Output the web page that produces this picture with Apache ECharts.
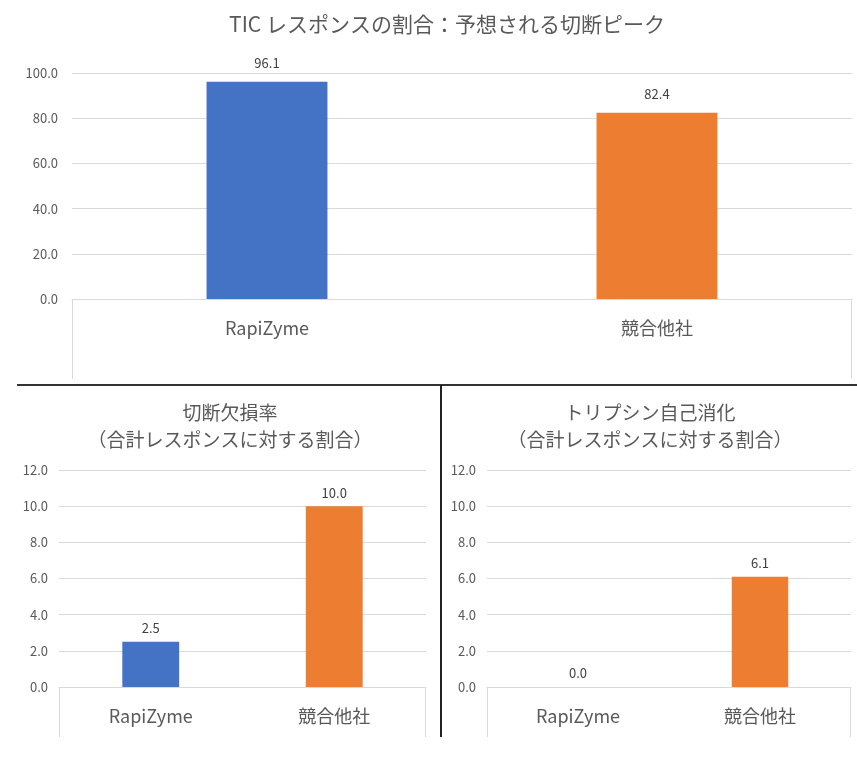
<!DOCTYPE html>
<html>
<head>
<meta charset="utf-8">
<script src="https://cdn.jsdelivr.net/npm/echarts@6/dist/echarts.min.js"></script>
<style>
html,body{margin:0;padding:0;background:#fff;}
#c{width:857px;height:767px;}
</style>
</head>
<body>
<div id="c"></div>
<script>
// ---- data ----
const categories = ['RapiZyme', '競合他社'];
const ticResponse = [96.1, 82.4];        // TIC レスポンスの割合
const cleavageLoss = [2.5, 10.0];        // 切断欠損率
const trypsinAutolysis = [0.0, 6.1];     // トリプシン自己消化
const barColors = ['#4472C4', '#ED7D31'];

const titleTop = 'TIC レスポンスの割合：予想される切断ピーク';
const titleLeft = '切断欠損率\n（合計レスポンスに対する割合）';
const titleRight = 'トリプシン自己消化\n（合計レスポンスに対する割合）';

const FONT = "'Liberation Sans Narrow', 'Noto Sans CJK JP', sans-serif";
const JFONT = "'Noto Sans CJK JP', sans-serif";

function seriesData(vals) {
  return vals.map((v, i) => ({ value: v, itemStyle: { color: barColors[i] } }));
}

const grids = [
  { left: 72, right: 5, top: 73, bottom: 468 },
  { left: 59, right: 431, top: 470, bottom: 80 },
  { left: 487, right: 6, top: 470, bottom: 80 }
];

function xAxis(gi, fs, margin) {
  return {
    type: 'category', gridIndex: gi, data: categories,
    axisLine: { show: true, lineStyle: { color: '#d9d9d9', width: 1 } },
    axisTick: { show: false },
    axisLabel: { color: '#595959', fontSize: fs, margin: margin, fontFamily: FONT }
  };
}
function yAxis(gi, max, interval, margin) {
  return {
    type: 'value', gridIndex: gi, min: 0, max: max, interval: interval,
    axisLine: { show: false }, axisTick: { show: false },
    splitLine: { lineStyle: { color: '#d9d9d9', width: 1 } },
    axisLabel: { color: '#595959', fontSize: 13, margin: margin, fontFamily: FONT,
      formatter: v => v.toFixed(1) }
  };
}
function bar(gi, vals, dist) {
  return {
    type: 'bar', xAxisIndex: gi, yAxisIndex: gi, data: seriesData(vals),
    barWidth: '31%',
    label: { show: true, position: 'top', distance: dist, color: '#404040', fontSize: 13,
      fontFamily: FONT, formatter: p => p.value.toFixed(1) }
  };
}

const chart = echarts.init(document.getElementById('c'), null, { renderer: 'canvas' });

const boxColor = '#d9d9d9';
function vline(x, y1, y2, color, w) {
  return { type: 'line', shape: { x1: x, y1: y1, x2: x, y2: y2 }, style: { stroke: color, lineWidth: w }, silent: true };
}
function hline(y, x1, x2, color, w) {
  return { type: 'line', shape: { x1: x1, y1: y, x2: x2, y2: y }, style: { stroke: color, lineWidth: w }, silent: true };
}

chart.setOption({
  animation: false,
  backgroundColor: '#ffffff',
  title: [
    { text: titleTop, left: 442, textAlign: 'center', top: 9,
      textStyle: { color: '#595959', fontSize: 21, fontWeight: 'normal', fontFamily: JFONT } },
    { text: titleLeft, left: 225, textAlign: 'center', top: 394,
      textStyle: { color: '#595959', fontSize: 19, lineHeight: 27, fontWeight: 'normal', fontFamily: JFONT } },
    { text: titleRight, left: 645, textAlign: 'center', top: 394,
      textStyle: { color: '#595959', fontSize: 19, lineHeight: 27, fontWeight: 'normal', fontFamily: JFONT } }
  ],
  grid: grids,
  xAxis: [xAxis(0, 18, 20), xAxis(1, 18, 20), xAxis(2, 18, 20)],
  yAxis: [yAxis(0, 100, 20, 14), yAxis(1, 12, 2, 11), yAxis(2, 12, 2, 11)],
  series: [bar(0, ticResponse, 12), bar(1, cleavageLoss, 7), bar(2, trypsinAutolysis, 7)],
  graphic: [
    vline(72.5, 299, 379, boxColor, 1),
    vline(851.5, 299, 379, boxColor, 1),
    vline(59.5, 687, 737, boxColor, 1),
    vline(425.5, 687, 737, boxColor, 1),
    vline(487.5, 687, 737, boxColor, 1),
    vline(850.5, 687, 737, boxColor, 1),
    hline(385, 17, 857, '#333333', 2),
    vline(441, 385, 737, '#222222', 2)
  ]
});
</script>
</body>
</html>
